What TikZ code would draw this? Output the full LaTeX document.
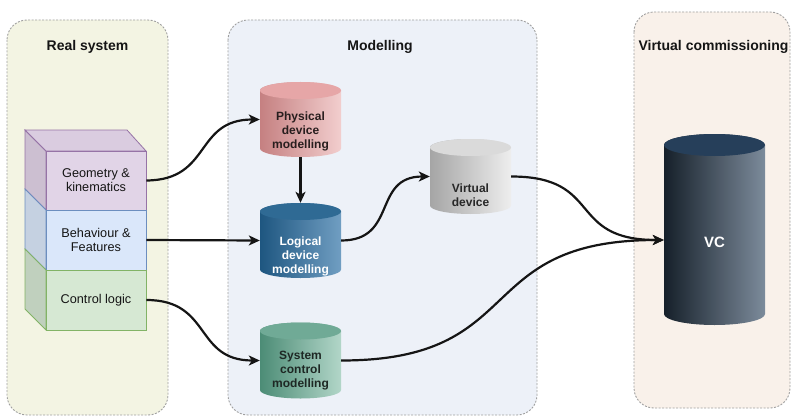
\documentclass[tikz,border=0pt]{standalone}
\usepackage{fontspec}
\setmainfont{Liberation Sans}
\usetikzlibrary{arrows.meta,calc}
\definecolor{realfill}{HTML}{F3F4E3}
\definecolor{modfill}{HTML}{EDF1F8}
\definecolor{vcfill}{HTML}{F9F1EA}
\definecolor{panelborder}{HTML}{A0A0A0}
\definecolor{geofill}{HTML}{E1D4E7}
\definecolor{geoside}{HTML}{CCBFD1}
\definecolor{geotop}{HTML}{DACCE0}
\definecolor{geostroke}{HTML}{9673A6}
\definecolor{behfill}{HTML}{DAE7FA}
\definecolor{behside}{HTML}{C5D1E1}
\definecolor{behstroke}{HTML}{6C8EBF}
\definecolor{ctlfill}{HTML}{D6E8D3}
\definecolor{ctlside}{HTML}{C0D0BE}
\definecolor{ctlstroke}{HTML}{82B366}
\definecolor{inkcol}{HTML}{151515}
\newcommand\mycyl[8]{%
  \path[left color=#7,right color=#8]
    (#1-#4,#2) -- (#1-#4,#3)
    arc[start angle=180,end angle=360,x radius=#4pt,y radius=#5pt]
    -- (#1+#4,#2)
    arc[start angle=0,end angle=180,x radius=#4pt,y radius=#5pt] -- cycle;
  \fill[#6] (#1,#2) ellipse[x radius=#4pt,y radius=#5pt];
}
\begin{document}
\begin{tikzpicture}[x=1pt,y=-1pt,
  panel/.style={draw=panelborder,line width=0.9pt,dash pattern=on 2pt off 1.5pt,rounded corners=20pt},
  paneltitle/.style={font=\fontsize{14}{16}\selectfont\bfseries,text=inkcol,inner sep=0pt},
  face/.style={line width=0.8pt,minimum width=100pt,inner sep=0pt,align=center,
    font=\fontsize{12.7}{14}\selectfont,text=inkcol},
  cylbox/.style={inner sep=0pt,minimum width=81pt},
  cyltext/.style={inner sep=0pt,align=center,font=\fontsize{12}{14}\selectfont\bfseries},
  conn/.style={draw=inkcol,line width=2.2pt,-{Stealth[length=11pt,width=10pt,inset=3pt]}}
]
\useasboundingbox (0,0) rectangle (791,417);
\fill[white] (0,0) rectangle (791,417);

% panels
\path[panel,fill=realfill] (7,20) rectangle (168,415);
\path[panel,fill=modfill] (228,20) rectangle (537,415);
\path[panel,fill=vcfill] (634,12) rectangle (790,408);
\node[paneltitle] (t1) at (87.5,47) {Real system};
\node[paneltitle] (t2) at (380,47) {Modelling};
\node[paneltitle] (t3) at (713.5,47) {Virtual commissioning};

% stacked cube
\filldraw[fill=geoside,draw=geostroke,line width=0.8pt] (25,130) -- (46,151) -- (46,210) -- (25,189) -- cycle;
\filldraw[fill=geotop,draw=geostroke,line width=0.8pt] (25,130) -- (127,130) -- (146,151) -- (46,151) -- cycle;
\filldraw[fill=behside,draw=behstroke,line width=0.8pt] (25,189) -- (46,210) -- (46,270) -- (25,249) -- cycle;
\filldraw[fill=ctlside,draw=ctlstroke,line width=0.8pt] (25,249) -- (46,270) -- (46,330) -- (25,309) -- cycle;
\node[face,fill=geofill,draw=geostroke,minimum height=59pt] (geo) at (96,180.5) {Geometry \&\\kinematics};
\node[face,fill=behfill,draw=behstroke,minimum height=60pt] (beh) at (96,240) {Behaviour \&\\Features};
\node[face,fill=ctlfill,draw=ctlstroke,minimum height=60pt] (ctl) at (96,300) {Control logic};

% cylinders
\mycyl{300.5}{90.5}{148.5}{40.5}{8.5}{fill={rgb,255:red,230;green,166;blue,167}}{{rgb,255:red,197;green,128;blue,129}}{{rgb,255:red,242;green,206;blue,206}}
\mycyl{300.5}{211.5}{269.5}{40.5}{8.5}{fill={rgb,255:red,47;green,106;blue,148}}{{rgb,255:red,30;green,86;blue,128}}{{rgb,255:red,112;green,158;blue,194}}
\mycyl{300.5}{331}{390}{40.5}{8.5}{fill={rgb,255:red,112;green,170;blue,150}}{{rgb,255:red,76;green,140;blue,118}}{{rgb,255:red,178;green,214;blue,200}}
\mycyl{470.5}{147.5}{205.5}{40.5}{8.5}{fill={rgb,255:red,218;green,218;blue,218}}{{rgb,255:red,165;green,165;blue,165}}{{rgb,255:red,238;green,238;blue,238}}
\mycyl{714.5}{145}{314}{50.5}{11}{fill={rgb,255:red,38;green,63;blue,90}}{{rgb,255:red,22;green,32;blue,42}}{{rgb,255:red,124;green,139;blue,155}}

\node[cylbox,minimum height=75pt] (phys) at (300.5,119.5) {};
\node[cylbox,minimum height=75pt] (logi) at (300.5,240.5) {};
\node[cylbox,minimum height=77pt] (sysc) at (300.5,360.5) {};
\node[cylbox,minimum height=75pt] (virt) at (470.5,176.5) {};
\node[inner sep=0pt,minimum width=101pt,minimum height=191pt] (vc) at (714.5,229.5) {};

\node[cyltext,text={rgb,255:red,40;green,30;blue,30}] (physT) at (300.5,131) {Physical\\device\\modelling};
\node[cyltext,text=white] (logiT) at (300.5,256) {Logical\\device\\modelling};
\node[cyltext,text={rgb,255:red,30;green,40;blue,36}] (syscT) at (300.5,370.5) {System\\control\\modelling};
\node[cyltext,text={rgb,255:red,40;green,40;blue,40}] (virtT) at (470.5,195) {Virtual\\device};
\node[cyltext,text=white,font=\fontsize{15}{17}\selectfont\bfseries] (vcT) at (714.5,242) {VC};

% connectors
\draw[conn] (geo.east) .. controls (212,180) and (194,119.5) .. (phys.west);
\draw[conn] (beh.east) -- (logi.west);
\draw[conn] (ctl.east) .. controls (212,300) and (194,360.5) .. (sysc.west);
\draw[conn] (phys.south) -- (logi.north);
\draw[conn] (logi.east) .. controls (398,240.5) and (372,176.5) .. (virt.west);
\draw[conn] (virt.east) .. controls (604,176.5) and (566,240) .. ([yshift=-10.5pt]vc.west);
\draw[conn] (sysc.east) .. controls (530,360.5) and (470,240) .. ([yshift=-10.5pt]vc.west);
\end{tikzpicture}
\end{document}
